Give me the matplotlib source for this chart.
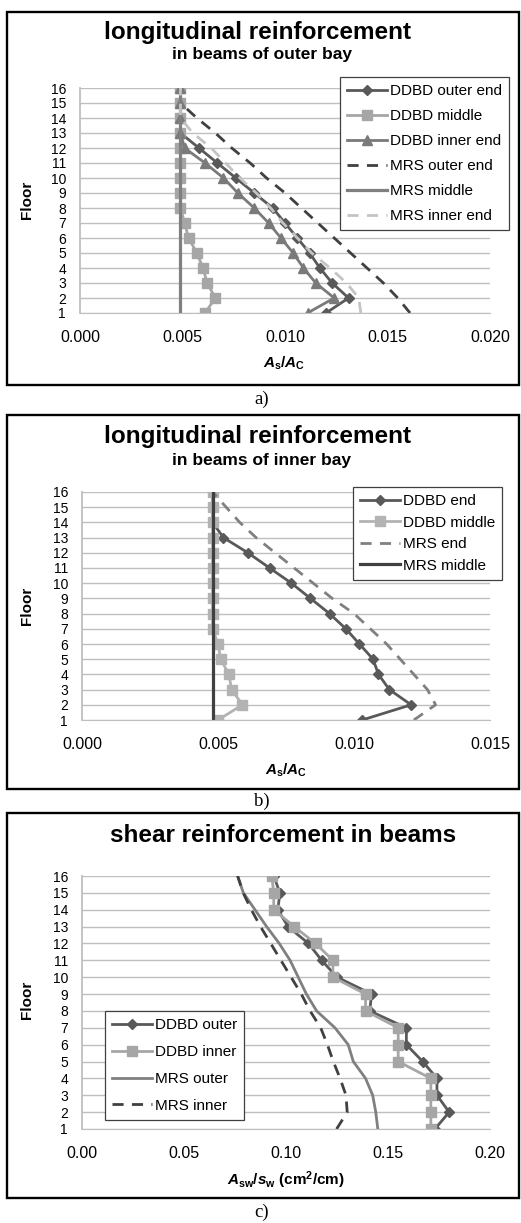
import matplotlib
matplotlib.use("Agg")
import matplotlib.pyplot as plt
from matplotlib.ticker import FormatStrFormatter

plt.rcParams['font.family'] = ['Liberation Sans', 'DejaVu Sans']
plt.rcParams['mathtext.fontset'] = 'custom'
plt.rcParams['mathtext.rm'] = 'Liberation Sans:bold'
plt.rcParams['mathtext.it'] = 'Liberation Sans:italic:bold'
plt.rcParams['mathtext.bf'] = 'Liberation Sans:bold'

# floors (y axis)
floors = [1, 2, 3, 4, 5, 6, 7, 8, 9, 10, 11, 12, 13, 14, 15, 16]

# a) longitudinal reinforcement, outer bay (As/Ac)
a_ddbd_outer = [0.0120, 0.0131, 0.0123, 0.0117, 0.0112, 0.0106, 0.0100, 0.0094,
                0.0085, 0.0076, 0.0067, 0.0058, 0.0049, 0.0049, 0.0049, 0.0049]
a_ddbd_middle = [0.0061, 0.0066, 0.0062, 0.0060, 0.0057, 0.0053, 0.0051, 0.0049,
                 0.0049, 0.0049, 0.0049, 0.0049, 0.0049, 0.0049, 0.0049, 0.0049]
a_ddbd_inner = [0.0111, 0.0124, 0.0115, 0.0109, 0.0104, 0.0098, 0.0092, 0.0085,
                0.0077, 0.0070, 0.0061, 0.0051, 0.0049, 0.0049, 0.0049, 0.0049]
a_mrs_outer = [0.0161, 0.0155, 0.0148, 0.0140, 0.0132, 0.0124, 0.0116, 0.0108,
               0.0100, 0.0091, 0.0083, 0.0074, 0.0066, 0.0057, 0.0049, 0.0049]
a_mrs_middle = [0.0049, 0.0049, 0.0049, 0.0049, 0.0049, 0.0049, 0.0049, 0.0049,
                0.0049, 0.0049, 0.0049, 0.0049, 0.0049, 0.0049, 0.0049, 0.0049]
a_mrs_inner = [0.0137, 0.0136, 0.0130, 0.0122, 0.0113, 0.0106, 0.0099, 0.0093,
               0.0086, 0.0078, 0.0071, 0.0064, 0.0055, 0.0049, 0.0049, 0.0049]
a_xticks = [0.000, 0.005, 0.010, 0.015, 0.020]

# b) longitudinal reinforcement, inner bay (As/Ac)
b_ddbd_end = [0.0103, 0.0121, 0.0113, 0.0109, 0.0107, 0.0102, 0.0097, 0.0091,
              0.0084, 0.0077, 0.0069, 0.0061, 0.0052, 0.0048, 0.0048, 0.0048]
b_ddbd_middle = [0.0050, 0.0059, 0.0055, 0.0054, 0.0051, 0.0050, 0.0048, 0.0048,
                 0.0048, 0.0048, 0.0048, 0.0048, 0.0048, 0.0048, 0.0048, 0.0048]
b_mrs_end = [0.0122, 0.0130, 0.0127, 0.0122, 0.0117, 0.0112, 0.0106, 0.0100,
             0.0092, 0.0085, 0.0078, 0.0071, 0.0064, 0.0058, 0.0053, 0.0048]
b_mrs_middle = [0.0048, 0.0048, 0.0048, 0.0048, 0.0048, 0.0048, 0.0048, 0.0048,
                0.0048, 0.0048, 0.0048, 0.0048, 0.0048, 0.0048, 0.0048, 0.0048]
b_xticks = [0.000, 0.005, 0.010, 0.015]

# c) shear reinforcement (Asw/sw, cm2/cm)
c_ddbd_outer = [0.173, 0.180, 0.174, 0.174, 0.167, 0.159, 0.159, 0.141,
                0.142, 0.125, 0.1175, 0.111, 0.101, 0.096, 0.097, 0.094]
c_ddbd_inner = [0.171, 0.171, 0.171, 0.171, 0.155, 0.155, 0.155, 0.139,
                0.139, 0.123, 0.123, 0.1145, 0.104, 0.094, 0.094, 0.093]
c_mrs_outer = [0.145, 0.144, 0.1425, 0.139, 0.133, 0.1305, 0.124, 0.115,
               0.110, 0.106, 0.102, 0.0967, 0.0905, 0.0848, 0.0791, 0.0763]
c_mrs_inner = [0.1248, 0.130, 0.1294, 0.1265, 0.1232, 0.1203, 0.117, 0.1118,
               0.1075, 0.1025, 0.0975, 0.0925, 0.0875, 0.083, 0.079, 0.0763]
c_xticks = [0.00, 0.05, 0.10, 0.15, 0.20]

W, H = 521, 1223
fig = plt.figure(figsize=(W / 100, H / 100), dpi=100)


def fx(px):
    return px / W


def fy(py):
    return 1 - py / H


def make_axes(x0, x1, ytop, ybot, xticks, fmt):
    ax = fig.add_axes([fx(x0), fy(ybot), (x1 - x0) / W, (ybot - ytop) / H])
    ax.set_xlim(xticks[0], xticks[-1])
    ax.set_ylim(1, 16)
    ax.set_xticks(xticks)
    ax.set_yticks(floors)
    ax.xaxis.set_major_formatter(FormatStrFormatter(fmt))
    ax.yaxis.grid(True, color='#BFBFBF', lw=1)
    ax.set_axisbelow(True)
    for s in ['top', 'right']:
        ax.spines[s].set_visible(False)
    ax.spines['left'].set_color('#BFBFBF')
    ax.spines['left'].set_linewidth(1.3)
    ax.spines['bottom'].set_color('#BFBFBF')
    ax.tick_params(length=0)
    ax.tick_params(axis='x', labelsize=11.5, pad=12)
    ax.tick_params(axis='y', labelsize=10, pad=10)
    ax.patch.set_alpha(0)
    return ax


def frame(ytop, ybot):
    fig.add_artist(plt.Rectangle((fx(7), fy(ybot)), (519 - 7) / W, (ybot - ytop) / H,
                                 transform=fig.transFigure, fill=False, lw=1.7, ec='black'))


def add_legend(ax, x, y, spacing):
    leg = ax.legend(loc='upper left', bbox_to_anchor=(fx(x), fy(y)), bbox_transform=fig.transFigure,
                    fancybox=False, framealpha=1, edgecolor='#404040', fontsize=11,
                    handlelength=2.6, handletextpad=0.2, borderaxespad=0, borderpad=0.45,
                    labelspacing=spacing)
    leg.get_frame().set_linewidth(0.9)
    return leg


lw = 2.0

# ---- panel a ----
frame(12, 385)
ax = make_axes(80, 490, 88, 313, a_xticks, '%.3f')
ax.plot(a_ddbd_outer, floors, color='#595959', lw=lw, marker='D', ms=5.5, label='DDBD outer end')
ax.plot(a_ddbd_middle, floors, color='#A6A6A6', lw=lw, marker='s', ms=6.5, label='DDBD middle')
ax.plot(a_ddbd_inner, floors, color='#7A7A7A', lw=lw, marker='^', ms=7, label='DDBD inner end')
ax.plot(a_mrs_outer, floors, color='#404040', lw=lw, ls=(0, (4, 3)), label='MRS outer end')
ax.plot(a_mrs_middle, floors, color='#808080', lw=lw + 0.3, label='MRS middle')
ax.plot(a_mrs_inner, floors, color='#C4C4C4', lw=lw, ls=(0, (4, 3)), label='MRS inner end')
add_legend(ax, 340, 77, 0.72)
fig.text(fx(258), fy(32), 'longitudinal reinforcement', ha='center', va='center',
         fontsize=17.5, fontweight='bold')
fig.text(fx(262), fy(54), 'in beams of outer bay', ha='center', va='center',
         fontsize=12.5, fontweight='bold')
fig.text(fx(284), fy(363), r'$A_\mathrm{s}/A_\mathrm{C}$', ha='center', va='center', fontsize=11)
fig.text(fx(27), fy(200), 'Floor', ha='center', va='center', rotation=90,
         fontsize=11, fontweight='bold')
fig.text(fx(262), fy(399), 'a)', ha='center', va='center', fontsize=13.5, family='Liberation Serif')

# ---- panel b ----
frame(415, 789)
ax = make_axes(82, 490, 492, 720, b_xticks, '%.3f')
ax.plot(b_ddbd_end, floors, color='#595959', lw=lw, marker='D', ms=5.5, label='DDBD end')
ax.plot(b_ddbd_middle, floors, color='#B3B3B3', lw=lw, marker='s', ms=6.5, label='DDBD middle')
ax.plot(b_mrs_end, floors, color='#808080', lw=lw, ls=(0, (4, 3)), label='MRS end')
ax.plot(b_mrs_middle, floors, color='#404040', lw=lw + 0.3, label='MRS middle')
add_legend(ax, 353, 487, 0.5)
fig.text(fx(258), fy(437), 'longitudinal reinforcement', ha='center', va='center',
         fontsize=17.5, fontweight='bold')
fig.text(fx(262), fy(460), 'in beams of inner bay', ha='center', va='center',
         fontsize=12.5, fontweight='bold')
fig.text(fx(286), fy(770), r'$A_\mathrm{s}/A_\mathrm{C}$', ha='center', va='center', fontsize=11)
fig.text(fx(27), fy(606), 'Floor', ha='center', va='center', rotation=90,
         fontsize=11, fontweight='bold')
fig.text(fx(262), fy(801), 'b)', ha='center', va='center', fontsize=13.5, family='Liberation Serif')

# ---- panel c ----
frame(813, 1198)
ax = make_axes(82, 490, 876, 1129, c_xticks, '%.2f')
ax.plot(c_ddbd_outer, floors, color='#595959', lw=lw, marker='D', ms=5.5, label='DDBD outer')
ax.plot(c_ddbd_inner, floors, color='#A6A6A6', lw=lw, marker='s', ms=6.5, label='DDBD inner')
ax.plot(c_mrs_outer, floors, color='#808080', lw=lw, label='MRS outer')
ax.plot(c_mrs_inner, floors, color='#404040', lw=lw, ls=(0, (4, 3)), label='MRS inner')
add_legend(ax, 105, 1011, 0.85)
fig.text(fx(283), fy(836), 'shear reinforcement in beams', ha='center', va='center',
         fontsize=17.5, fontweight='bold')
fig.text(fx(286), fy(1180), r'$A_\mathrm{sw}/s_\mathrm{w}$ (cm$^\mathrm{2}$/cm)', ha='center',
         va='center', fontsize=11, fontweight='bold')
fig.text(fx(27), fy(1000), 'Floor', ha='center', va='center', rotation=90,
         fontsize=11, fontweight='bold')
fig.text(fx(262), fy(1212), 'c)', ha='center', va='center', fontsize=13.5, family='Liberation Serif')

fig.savefig('out.png', dpi=100)
